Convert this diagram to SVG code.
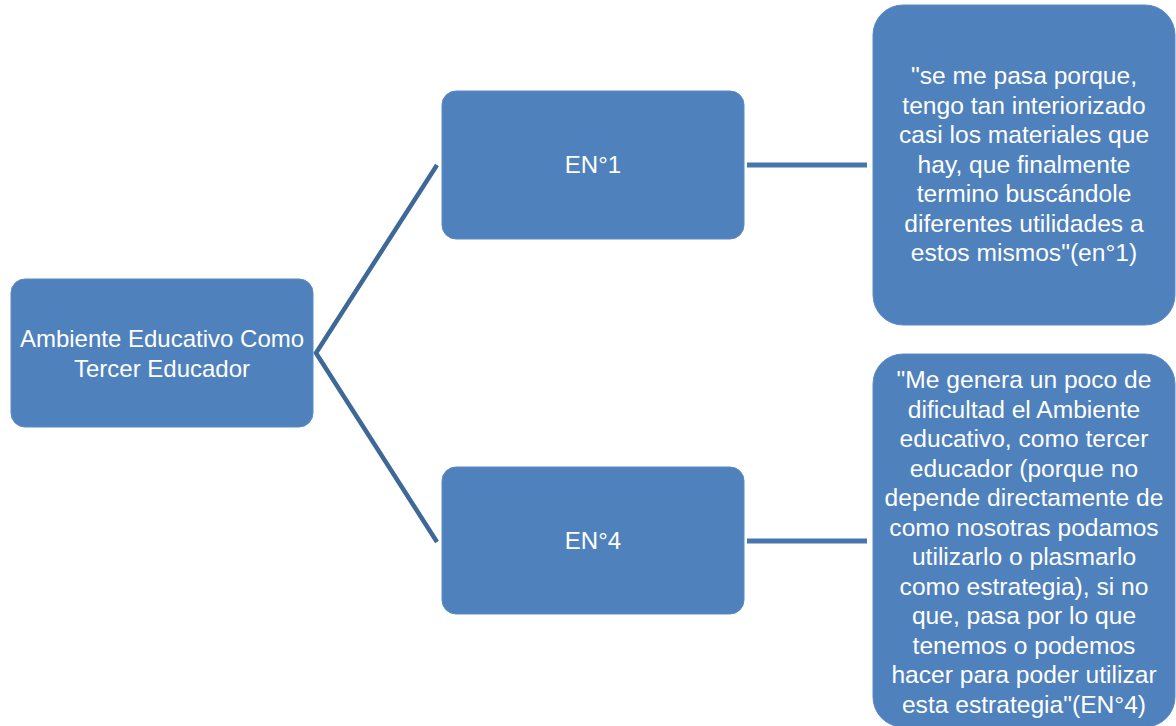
<svg xmlns="http://www.w3.org/2000/svg" width="1176" height="726" viewBox="0 0 1176 726">
<style>
.box{fill:#4f81bd;stroke:#5b8bc4;stroke-width:1}
.t{font-family:"Liberation Sans",Arial,sans-serif;font-size:24px;fill:#ffffff;text-anchor:middle}
.q{font-size:24.6px}
.diag{stroke:#3e6898;stroke-width:4.5;fill:none}
.hor{stroke:#4776af;stroke-width:5;fill:none}
</style>
<rect width="1176" height="726" fill="#ffffff"/>
<g id="connectors">
<polyline class="diag" points="437,165 316,353 437,542"/>
<line class="hor" x1="747" y1="165" x2="867" y2="165"/>
<line class="hor" x1="747" y1="541" x2="867" y2="541"/>
</g>
<g id="root">
<rect class="box" x="11" y="279" width="302" height="148" rx="14"/>
<text class="t" x="162" y="347">Ambiente Educativo Como</text>
<text class="t" x="162" y="377">Tercer Educador</text>
</g>
<g id="en1">
<rect class="box" x="442" y="91" width="302" height="148" rx="14"/>
<text class="t" x="593" y="173">EN°1</text>
</g>
<g id="en4">
<rect class="box" x="442" y="467" width="302" height="147" rx="14"/>
<text class="t" x="593" y="549">EN°4</text>
</g>
<g id="quote1">
<rect class="box" x="873" y="5" width="302" height="320" rx="30"/>
<text class="t q" x="1024" y="84">"se me pasa porque,</text>
<text class="t q" x="1024" y="113.5">tengo tan interiorizado</text>
<text class="t q" x="1024" y="143">casi los materiales que</text>
<text class="t q" x="1024" y="172.5">hay, que finalmente</text>
<text class="t q" x="1024" y="202">termino buscándole</text>
<text class="t q" x="1024" y="231.5">diferentes utilidades a</text>
<text class="t q" x="1024" y="261">estos mismos"(en°1)</text>
</g>
<g id="quote2">
<rect class="box" x="873" y="354" width="302" height="373" rx="30"/>
<text class="t q" x="1024" y="388">"Me genera un poco de</text>
<text class="t q" x="1024" y="417.5">dificultad el Ambiente</text>
<text class="t q" x="1024" y="447">educativo, como tercer</text>
<text class="t q" x="1024" y="476.5">educador (porque no</text>
<text class="t q" x="1024" y="506">depende directamente de</text>
<text class="t q" x="1024" y="535.5">como nosotras podamos</text>
<text class="t q" x="1024" y="565">utilizarlo o plasmarlo</text>
<text class="t q" x="1024" y="594.5">como estrategia), si no</text>
<text class="t q" x="1024" y="624">que, pasa por lo que</text>
<text class="t q" x="1024" y="653.5">tenemos o podemos</text>
<text class="t q" x="1024" y="683">hacer para poder utilizar</text>
<text class="t q" x="1024" y="712.5">esta estrategia"(EN°4)</text>
</g>
</svg>
